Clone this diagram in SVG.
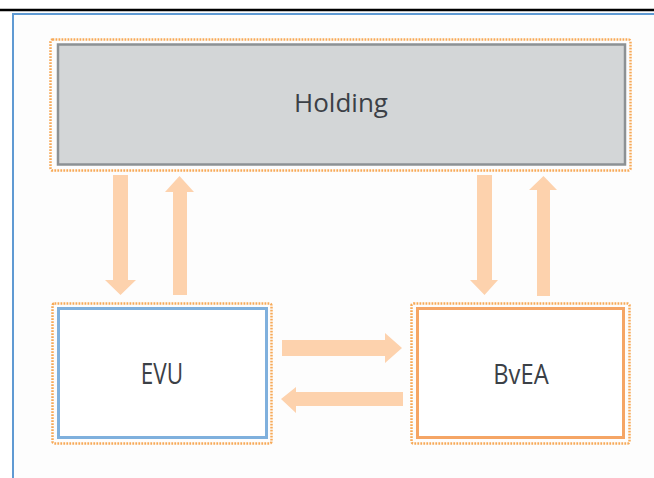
<svg xmlns="http://www.w3.org/2000/svg" width="654" height="478" viewBox="0 0 654 478">
  <style>
    .dot { fill: none; stroke: #f7a957; stroke-width: 2.5; stroke-dasharray: 1.8 1.2; }
    .lbl { font-family: "Open Sans", "Noto Sans", sans-serif; fill: #3b4046; text-anchor: middle; }
    .arr { fill: #fdd2ad; }
  </style>
  <rect x="0" y="0" width="654" height="478" fill="#ffffff"/>
  <rect x="13" y="14" width="641" height="464" fill="#fdfdfd"/>
  <line x1="0" y1="10" x2="654" y2="10" stroke="#000000" stroke-width="2.5"/>
  <line x1="12" y1="14" x2="654" y2="14" stroke="#5f9ad3" stroke-width="2"/>
  <line x1="13" y1="13" x2="13" y2="478" stroke="#5f9ad3" stroke-width="2"/>

  <g id="holding">
    <rect class="dot" x="50.5" y="39.5" width="580" height="131" rx="2"/>
    <rect x="58" y="44.5" width="567" height="120" fill="#d3d6d7" stroke="#8c9194" stroke-width="2.5"/>
    <text class="lbl" x="341" y="112" font-size="26">Holding</text>
  </g>

  <g id="evu">
    <rect class="dot" x="52.5" y="303.5" width="219" height="140" rx="2"/>
    <rect x="58.5" y="308.5" width="208" height="129" fill="#ffffff" stroke="#7fb0dd" stroke-width="3"/>
    <text class="lbl" x="162" y="384" font-size="25" transform="translate(162 384) scale(0.9 1.15) translate(-162 -384)">EVU</text>
  </g>

  <g id="bvea">
    <rect class="dot" x="411.5" y="303.5" width="218" height="140" rx="2"/>
    <rect x="417.5" y="308.5" width="206" height="129" fill="#ffffff" stroke="#f5a565" stroke-width="3"/>
    <text class="lbl" x="521" y="384" font-size="25" transform="translate(521 384) scale(0.95 1.08) translate(-521 -384)">BvEA</text>
  </g>

  <g id="connectors">
    <polygon id="holding-to-evu" class="arr" points="113,175 128,175 128,280 136,280 120.5,295 105,280 113,280"/>
    <polygon id="evu-to-holding" class="arr" points="173,295 187,295 187,192 194,192 179.5,176 165,192 173,192"/>
    <polygon id="holding-to-bvea" class="arr" points="477,175 492,175 492,280 498,280 484.5,295 470,280 477,280"/>
    <polygon id="bvea-to-holding" class="arr" points="537,296 550,296 550,190 557,190 543.5,176 529,190 537,190"/>
    <polygon id="evu-to-bvea" class="arr" points="282,340 385,340 385,333 402,348 385,363 385,356 282,356"/>
    <polygon id="bvea-to-evu" class="arr" points="403,392 296,392 296,387 281,399 296,413 296,406 403,406"/>
  </g>
</svg>
